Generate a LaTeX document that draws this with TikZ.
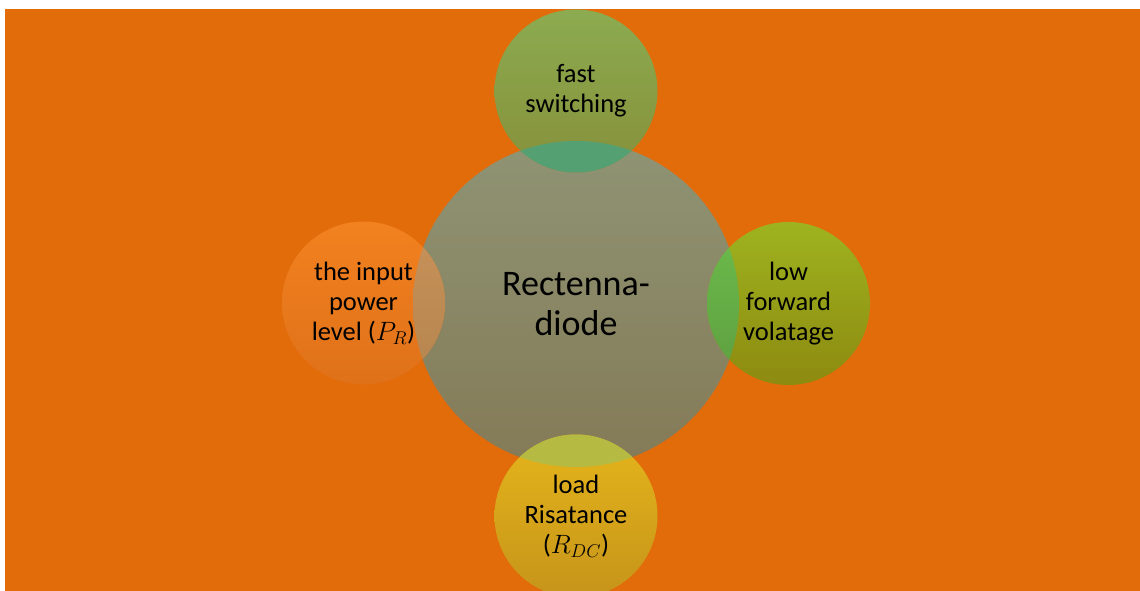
\documentclass[tikz,border=0pt]{standalone}
\usepackage{fix-cm}
\usepackage{fontspec}
\setmainfont{Carlito}
\definecolor{bgor}{HTML}{E26B0A}
\definecolor{cenT}{HTML}{8F9474}
\definecolor{cenB}{HTML}{847A57}
\definecolor{topT}{HTML}{8CAB50}
\definecolor{topB}{HTML}{86903A}
\definecolor{topO}{HTML}{55A072}
\definecolor{lefT}{HTML}{F2811F}
\definecolor{lefB}{HTML}{DF7119}
\definecolor{lefOT}{HTML}{C8925A}
\definecolor{lefOB}{HTML}{B5844E}
\definecolor{rigT}{HTML}{9EB31F}
\definecolor{rigB}{HTML}{8D8A10}
\definecolor{rigOT}{HTML}{6CBC4C}
\definecolor{rigOB}{HTML}{5E9E40}
\definecolor{botT}{HTML}{E5B51B}
\definecolor{botB}{HTML}{C6941A}
\definecolor{botO}{HTML}{B5BB42}
\tikzset{
  bubble/.style={circle,inner sep=0pt,minimum size=163pt},
  bigbubble/.style={circle,inner sep=0pt,minimum size=326pt},
  lbl/.style={align=center,font=\fontsize{26.5}{30}\selectfont,text=black},
  biglbl/.style={align=center,font=\fontsize{36}{40}\selectfont,text=black}
}
\begin{document}
\begin{tikzpicture}[x=1pt,y=1pt]
\useasboundingbox (0,0) rectangle (1140,591);
\fill[white] (0,0) rectangle (1140,591);
\fill[bgor] (5,0) rectangle (1140,582);
\begin{scope}
\clip (5,0) rectangle (1140,582);
\node[bigbubble,top color=cenT,bottom color=cenB] (cen) at (576,287) {};
\node[bubble,top color=topT,bottom color=topB] (top) at (576,500) {};
\node[bubble,top color=lefT,bottom color=lefB] (lef) at (363.5,288) {};
\node[bubble,top color=rigT,bottom color=rigB] (rig) at (788.5,287.5) {};
\node[bubble,top color=botT,bottom color=botB] (bot) at (576,75) {};
\begin{scope}
\clip (cen.center) circle (163);
\fill[topO] (top.center) circle (81.5);
\fill[botO] (bot.center) circle (81.5);
\shade[top color=lefOT,bottom color=lefOB] (lef.center) circle (81.5);
\shade[top color=rigOT,bottom color=rigOB] (rig.center) circle (81.5);
\end{scope}
\end{scope}
\node[biglbl] (cent) at (cen.center) {Rectenna-\\diode};
\node[lbl] (topt) at (top.center) {fast\\switching};
\node[lbl] (left) at (lef.center) {the input\\power\\level ($P_R$)};
\node[lbl] (rigt) at (rig.center) {low\\forward\\volatage};
\node[lbl] (bott) at (bot.center) {load\\Risatance\\($R_{DC}$)};
\end{tikzpicture}
\end{document}
